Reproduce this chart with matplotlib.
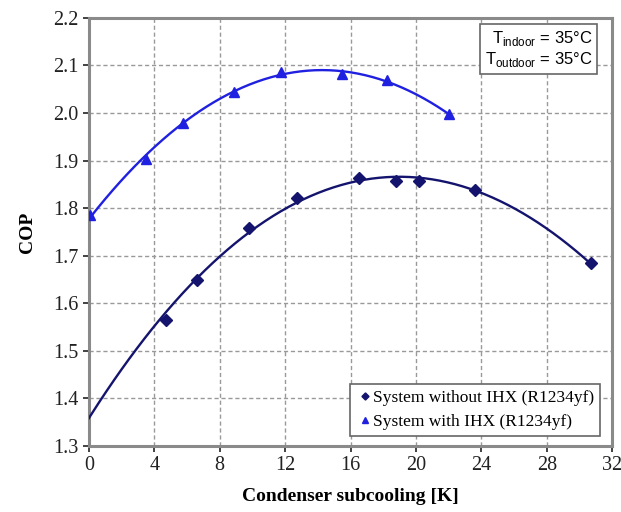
import matplotlib
matplotlib.use("Agg")
import matplotlib.pyplot as plt
import numpy as np

x_no_ihx = [4.7, 6.6, 9.8, 12.7, 16.5, 18.8, 20.2, 23.6, 30.7]
cop_no_ihx = [1.565, 1.648, 1.758, 1.822, 1.863, 1.858, 1.858, 1.838, 1.684]
x_ihx = [0.1, 3.5, 5.75, 8.85, 11.75, 15.45, 18.25, 22.0]
cop_ihx = [1.785, 1.904, 1.980, 2.045, 2.087, 2.082, 2.069, 1.997]

# trendline intercept at 0 K
no_ihx_intercept = 1.365

# trendline ranges
fit_no_ihx_range = (0.0, 30.7)
fit_ihx_range = (0.0, 22.0)

x_ticks = [0, 4, 8, 12, 16, 20, 24, 28, 32]
y_ticks = [1.3, 1.4, 1.5, 1.6, 1.7, 1.8, 1.9, 2.0, 2.1, 2.2]

navy = "#14146e"
blue = "#2020e0"

plt.rcParams["font.family"] = ["Liberation Serif", "DejaVu Serif"]

fig = plt.figure(figsize=(6.21, 5.12), dpi=100)
ax = fig.add_axes([0.143, 0.129, 0.843, 0.836])

# polynomial trendlines, as in the spreadsheet original
p_lo = np.polyfit([0.0] + x_no_ihx, [no_ihx_intercept] + cop_no_ihx, 3)
xs = np.linspace(*fit_no_ihx_range, 200)
ax.plot(xs, np.polyval(p_lo, xs), color=navy, lw=1.7, zorder=3)
p_hi = np.polyfit(x_ihx, cop_ihx, 2)
xs = np.linspace(*fit_ihx_range, 200)
ax.plot(xs, np.polyval(p_hi, xs), color=blue, lw=1.7, zorder=3)

ax.plot(x_no_ihx, cop_no_ihx, ls="none", marker="D", ms=6, color=navy,
        label="System without IHX (R1234yf)", zorder=4)
ax.plot(x_ihx, cop_ihx, ls="none", marker="^", ms=7.5, color=blue,
        label="System with IHX (R1234yf)", zorder=4)

ax.set_xlim(0, 32)
ax.set_ylim(1.3, 2.2)
ax.set_xticks(x_ticks)
ax.set_yticks(y_ticks)
ax.set_yticklabels([f"{v:.1f}" for v in y_ticks])
ax.tick_params(labelsize=14.5, colors="#222222", length=4, width=1.2)
ax.grid(True, ls=(0, (3, 2)), color="#999999", lw=1.0)
for s in ax.spines.values():
    s.set_color("#8a8a8a")
    s.set_linewidth(2.2)

ax.set_xlabel("Condenser subcooling [K]", fontsize=14, fontweight="bold",
              labelpad=9)
ax.set_ylabel("COP", fontsize=14, fontweight="bold", labelpad=12)

leg = ax.legend(loc="lower right", bbox_to_anchor=(0.994, 0.003), fontsize=12.5,
                handletextpad=0.0, handlelength=1.0, markerscale=0.6,
                borderpad=0.35, labelspacing=0.45, fancybox=False, framealpha=1)
leg.get_frame().set_edgecolor("#666666")
leg.get_frame().set_linewidth(1.2)

ax.text(0.962, 0.975,
        "T$_{\\mathregular{indoor}}$ = 35°C\nT$_{\\mathregular{outdoor}}$ = 35°C",
        transform=ax.transAxes, ha="right", va="top", fontsize=12,
        family=["Liberation Sans", "DejaVu Sans"], linespacing=1.2,
        bbox=dict(boxstyle="square,pad=0.3", fc="white", ec="#666666", lw=1.2))

fig.savefig("out.png", dpi=100)
